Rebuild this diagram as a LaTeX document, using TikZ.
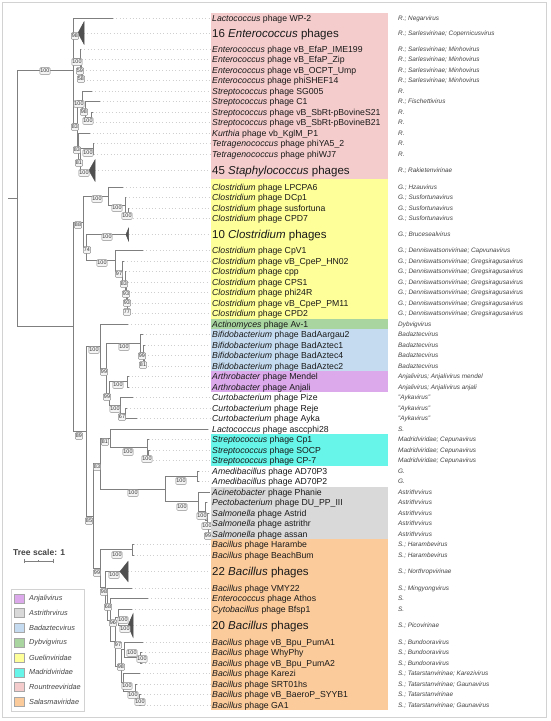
\documentclass[tikz,border=0pt]{standalone}
\usepackage{fontspec}
\setmainfont{Liberation Sans}
\definecolor{cR}{HTML}{F4CCCC}
\definecolor{cG}{HTML}{FFFF99}
\definecolor{cD}{HTML}{A8D5A0}
\definecolor{cB}{HTML}{C5DCF0}
\definecolor{cA}{HTML}{DCA9EA}
\definecolor{cM}{HTML}{66F5E8}
\definecolor{cT}{HTML}{D9D9D9}
\definecolor{cS}{HTML}{FBCB9B}
\definecolor{brc}{HTML}{7F7F7F}
\definecolor{leadc}{HTML}{CFCFCF}
\definecolor{bsb}{HTML}{8A8A8A}
\definecolor{bsf}{HTML}{F4F4F4}
\definecolor{bst}{HTML}{333333}
\definecolor{taxc}{HTML}{444444}
\definecolor{txtc}{HTML}{1A1A1A}
\definecolor{framec}{HTML}{D2D2D2}
\definecolor{tric}{HTML}{505050}
\newcommand{\leaflbl}[5]{%
  \node[lab] (n#1) at (212,{#2+3.1}) {\textit{#3} #4};
  \node[tax] (x#1) at (398,{#2+2.3}) {#5};}
\newcommand{\cladelbl}[5]{%
  \node[biglab] (n#1) at (212,{#2+4.1}) {#3 \textit{#4} phages};
  \node[tax] (x#1) at (398,{#2+2.3}) {#5};}
\begin{document}
\begin{tikzpicture}[x=1pt,y=-1pt,
  br/.style={draw=brc, line width=0.9pt},
  lead/.style={draw=leadc, line width=0.7pt, dash pattern=on 0.9pt off 2.4pt},
  tri/.style={fill=tric, draw=tric, line width=0.5pt},
  bs/.style={draw=bsb, fill=bsf, rounded corners=1pt, inner sep=0.7pt, line width=0.5pt,
    font=\fontsize{5.4}{5.4}\selectfont, text=bst, minimum height=6.8pt},
  lab/.style={anchor=base west, inner sep=0pt, text=txtc, font=\fontsize{8.7}{9}\selectfont},
  biglab/.style={anchor=base west, inner sep=0pt, text=txtc, font=\fontsize{11.5}{12}\selectfont},
  tax/.style={anchor=base west, inner sep=0pt, text=taxc, font=\fontsize{6.4}{7}\selectfont\itshape},
  cbox/.style={draw=none},
  legsq/.style={draw=gray!70, line width=0.4pt, minimum width=10pt, minimum height=9pt, inner sep=0pt},
  legtxt/.style={anchor=west, inner sep=0pt, text=taxc, font=\fontsize{7.3}{8}\selectfont\itshape},
  frame/.style={draw=framec, line width=1.5pt}]
\useasboundingbox (0,0) rectangle (550,721);
\fill[white] (0,0) rectangle (550,721);

% ---------- internal nodes
\coordinate (R0) at (17,198.6);
\coordinate (R0s) at (8,198.6);
\coordinate (A) at (73,70.6);
\coordinate (Mi) at (80,58.2);
\coordinate (M2) at (81,67.4);
\coordinate (M3) at (82,75.25);
\coordinate (B) at (77,123.25);
\coordinate (P) at (82,100.2);
\coordinate (Q) at (85,109.4);
\coordinate (Rr) at (91,117.25);
\coordinate (D2) at (78,146.3);
\coordinate (D3) at (80,159.6);
\coordinate (YW) at (93,148.75);
\coordinate (L) at (73,326.6);
\coordinate (G88) at (83,222);
\coordinate (X1) at (108,196.2);
\coordinate (X2) at (125,205.4);
\coordinate (X3) at (128,213.25);
\coordinate (G74) at (86,247.7);
\coordinate (Nb) at (115,260.8);
\coordinate (C97) at (122,271.2);
\coordinate (C83) at (125,281.3);
\coordinate (C93a) at (126.5,291.2);
\coordinate (C93b) at (127,300.4);
\coordinate (C77) at (127.5,308.25);
\coordinate (N89) at (86,431.3);
\coordinate (U) at (100,346.3);
\coordinate (W) at (106,368.6);
\coordinate (Bf) at (140,343.7);
\coordinate (Bf2) at (143,352.9);
\coordinate (Bf3) at (144,360.75);
\coordinate (V) at (109,393.6);
\coordinate (Anj) at (127,381.75);
\coordinate (Cu) at (120,405.4);
\coordinate (Cu2) at (125,413.25);
\coordinate (N85) at (93,516.2);
\coordinate (N83) at (100,463.6);
\coordinate (N81) at (110,438.2);
\coordinate (Md1) at (147,447.4);
\coordinate (Md2) at (148,455.25);
\coordinate (AA) at (165,489.1);
\coordinate (Am) at (197,476.25);
\coordinate (As1) at (198,501.9);
\coordinate (As2) at (205,511.7);
\coordinate (As3) at (207,520.9);
\coordinate (As4) at (208.5,528.75);
\coordinate (S) at (100,568.8);
\coordinate (Ha) at (132,549.75);
\coordinate (S98) at (105,587.8);
\coordinate (S68) at (107,604);
\coordinate (S96) at (110,620.1);
\coordinate (S97) at (115,641.8);
\coordinate (Px) at (118,617.25);
\coordinate (S98b) at (121,666.3);
\coordinate (Bu1) at (124,649.9);
\coordinate (Bu2) at (140,657.75);
\coordinate (K1) at (123,682.7);
\coordinate (K2) at (135,691.9);
\coordinate (K3) at (139,699.75);

% ---------- leaders and leaves
\foreach \p/\i/\x/\y in {A/1/113/18, Mi/3/81/49, M2/4/82/59.5, M3/5/83/70, M3/6/83.5/80.5,
  P/7/92/91, Q/8/100/101.5, Rr/9/92.5/112, Rr/10/93/122.5, D2/11/90/133, YW/12/94/143.5,
  YW/13/94/154, X1/15/123/187, X2/16/126/197.5, X3/17/129/208, X3/18/130/218.5,
  Nb/20/143/250.5, C97/21/124/261, C83/22/126/271.5, C93a/23/127.5/282, C93b/24/128/292.5,
  C77/25/128.5/303, C77/26/128.5/313.5, U/27/128/324, Bf/28/143/334.5, Bf2/29/144.5/345,
  Bf3/30/145/355.5, Bf3/31/145/366, Anj/32/128.5/376.5, Anj/33/128.5/387, Cu/34/133/397.5,
  Cu2/35/127/408, Cu2/36/137/418.5, N81/37/208/429, Md1/38/148.5/439.5, Md2/39/149.5/450,
  Md2/40/149.5/460.5, Am/41/198.5/471, Am/42/198.5/481.5, As1/43/210/492, As2/44/207/502.5,
  As3/45/208.5/513, As4/46/210/523.5, As4/47/210/534, Ha/48/133.5/544.5, Ha/49/133.5/555,
  S68/51/132/588, S96/52/148/598.5, Px/53/132/609, Bu1/55/143/642, Bu2/56/142/652.5,
  Bu2/57/142/663, K1/58/140/673.5, K2/59/137/684, K3/60/140.5/694.5, K3/61/140.5/705}
{\coordinate (t\i) at (\x,\y); \coordinate (e\i) at (210,\y);
 \draw[lead] (t\i) -- (e\i);
 \draw[br] (\p) |- (t\i);}

% ---------- collapsed clades
\foreach \p/\i/\ax/\bx/\y/\h in {A/2/78/84/33/11, D3/14/89/95/170.5/10.5, G74/19/126/128.5/234.5/6,
  S98/50/120/128/571.5/10, Px/54/128/133/625.5/11.5}
{\coordinate (t\i) at (\ax,\y); \coordinate (b\i) at (\bx,\y); \coordinate (e\i) at (210,\y);
 \draw[lead] (b\i) -- (e\i);
 \draw[br] (\p) |- (t\i);
 \filldraw[tri] (t\i) -- (\bx,{\y-\h}) -- (\bx,{\y+\h}) -- cycle;}

% ---------- internal branches
\draw[br] (R0s) -- (R0);
\foreach \p/\c in {R0/A, R0/L, A/Mi, A/B, Mi/M2, M2/M3, B/P, B/D2, P/Q, Q/Rr, D2/D3, D3/YW,
  L/G88, L/N89, G88/X1, G88/G74, X1/X2, X2/X3, G74/Nb, Nb/C97, C97/C83, C83/C93a, C93a/C93b,
  C93b/C77, N89/U, N89/N85, U/W, W/Bf, Bf/Bf2, Bf2/Bf3, W/V, V/Anj, V/Cu, Cu/Cu2, N85/N83,
  N85/S, N83/N81, N83/AA, N81/Md1, Md1/Md2, AA/Am, AA/As1, As1/As2, As2/As3, As3/As4, S/Ha,
  S/S98, S98/S68, S68/S96, S96/S97, S97/Px, S97/S98b, S98b/Bu1, S98b/K1, Bu1/Bu2, K1/K2, K2/K3}
  \draw[br] (\p) |- (\c);

% ---------- bootstrap values
\foreach \x/\y/\t [count=\i] in {45/71/100, 75/36/98, 77/62/100, 80/71/59, 81/79/58, 79/104/100,
  84/112/98, 88/121/100, 75/127/83, 77/150/83, 88/153/100, 79/163/81, 84/173/100, 97/199/100,
  117/208/100, 127/216/100, 78/225/88, 107/237/100, 87/250/74, 102/263/100, 119/274/97,
  124/284/83, 126/294/93, 127/303/93, 127/312/77, 79/436/89, 94/350/100, 124/347/100,
  142/356/99, 143/365/81, 104/372/99, 118/385/100, 107/397/99, 115/409/100, 122/417/67,
  105/442/81, 128/452/100, 147/459/100, 97/467/83, 133/493/100, 181/481/100, 182/507/100,
  202/516/100, 207/526/100, 208/536/99, 89/521/85, 97/573/99, 117/555/100, 114/575/100,
  104/592/98, 108/607/68, 113/623/96, 123/620/100, 125/629/100, 118/645/97, 132/653/100,
  142/659/100, 121/667/98, 127/686/100, 133/695/100, 140/702/100}
  \node[bs] (bs\i) at (\x,\y) {\t};

% ---------- colour bands
\fill[cR] (211,12.75) rectangle (388,179);
\fill[cG] (211,179) rectangle (388,318.75);
\fill[cD] (211,318.75) rectangle (388,329.25);
\fill[cB] (211,329.25) rectangle (388,371.25);
\fill[cA] (211,371.25) rectangle (388,392.25);
\fill[cM] (211,434.25) rectangle (388,465.75);
\fill[cT] (211,486.75) rectangle (388,539.25);
\fill[cS] (211,539.25) rectangle (388,710.25);

% ---------- labels
\leaflbl{1}{18}{Lactococcus}{phage WP-2}{R.; Negarvirus}
\cladelbl{2}{33}{16}{Enterococcus}{R.; Sarlesvirinae; Copernicusvirus}
\leaflbl{3}{49}{Enterococcus}{phage vB\_EfaP\_IME199}{R.; Sarlesvirinae; Minhovirus}
\leaflbl{4}{59.5}{Enterococcus}{phage vB\_EfaP\_Zip}{R.; Sarlesvirinae; Minhovirus}
\leaflbl{5}{70}{Enterococcus}{phage vB\_OCPT\_Ump}{R.; Sarlesvirinae; Minhovirus}
\leaflbl{6}{80.5}{Enterococcus}{phage phiSHEF14}{R.; Sarlesvirinae; Minhovirus}
\leaflbl{7}{91}{Streptococcus}{phage SG005}{R.}
\leaflbl{8}{101.5}{Streptococcus}{phage C1}{R.; Fischettivirus}
\leaflbl{9}{112}{Streptococcus}{phage vB\_SbRt-pBovineS21}{R.}
\leaflbl{10}{122.5}{Streptococcus}{phage vB\_SbRt-pBovineB21}{R.}
\leaflbl{11}{133}{Kurthia}{phage vb\_KglM\_P1}{R.}
\leaflbl{12}{143.5}{Tetragenococcus}{phage phiYA5\_2}{R.}
\leaflbl{13}{154}{Tetragenococcus}{phage phiWJ7}{R.}
\cladelbl{14}{170.5}{45}{Staphylococcus}{R.; Rakietenvirinae}
\leaflbl{15}{187}{Clostridium}{phage LPCPA6}{G.; Hzauvirus}
\leaflbl{16}{197.5}{Clostridium}{phage DCp1}{G.; Susfortunavirus}
\leaflbl{17}{208}{Clostridium}{phage susfortuna}{G.; Susfortunavirus}
\leaflbl{18}{218.5}{Clostridium}{phage CPD7}{G.; Susfortunavirus}
\cladelbl{19}{234.5}{10}{Clostridium}{G.; Brucesealvirus}
\leaflbl{20}{250.5}{Clostridium}{phage CpV1}{G.; Denniswatsonvirinae; Capvunavirus}
\leaflbl{21}{261}{Clostridium}{phage vB\_CpeP\_HN02}{G.; Denniswatsonvirinae; Gregsiragusavirus}
\leaflbl{22}{271.5}{Clostridium}{phage cpp}{G.; Denniswatsonvirinae; Gregsiragusavirus}
\leaflbl{23}{282}{Clostridium}{phage CPS1}{G.; Denniswatsonvirinae; Gregsiragusavirus}
\leaflbl{24}{292.5}{Clostridium}{phage phi24R}{G.; Denniswatsonvirinae; Gregsiragusavirus}
\leaflbl{25}{303}{Clostridium}{phage vB\_CpeP\_PM11}{G.; Denniswatsonvirinae; Gregsiragusavirus}
\leaflbl{26}{313.5}{Clostridium}{phage CPD2}{G.; Denniswatsonvirinae; Gregsiragusavirus}
\leaflbl{27}{324}{Actinomyces}{phage Av-1}{Dybvigvirus}
\leaflbl{28}{334.5}{Bifidobacterium}{phage BadAargau2}{Badaztecvirus}
\leaflbl{29}{345}{Bifidobacterium}{phage BadAztec1}{Badaztecvirus}
\leaflbl{30}{355.5}{Bifidobacterium}{phage BadAztec4}{Badaztecvirus}
\leaflbl{31}{366}{Bifidobacterium}{phage BadAztec2}{Badaztecvirus}
\leaflbl{32}{376.5}{Arthrobacter}{phage Mendel}{Anjalivirus; Anjalivirus mendel}
\leaflbl{33}{387}{Arthrobacter}{phage Anjali}{Anjalivirus; Anjalivirus anjali}
\leaflbl{34}{397.5}{Curtobacterium}{phage Pize}{"Aykavirus"}
\leaflbl{35}{408}{Curtobacterium}{phage Reje}{"Aykavirus"}
\leaflbl{36}{418.5}{Curtobacterium}{phage Ayka}{"Aykavirus"}
\leaflbl{37}{429}{Lactococcus}{phage asccphi28}{S.}
\leaflbl{38}{439.5}{Streptococcus}{phage Cp1}{Madridviridae; Cepunavirus}
\leaflbl{39}{450}{Streptococcus}{phage SOCP}{Madridviridae; Cepunavirus}
\leaflbl{40}{460.5}{Streptococcus}{phage CP-7}{Madridviridae; Cepunavirus}
\leaflbl{41}{471}{Amedibacillus}{phage AD70P3}{G.}
\leaflbl{42}{481.5}{Amedibacillus}{phage AD70P2}{G.}
\leaflbl{43}{492}{Acinetobacter}{phage Phanie}{Astrithrvirus}
\leaflbl{44}{502.5}{Pectobacterium}{phage DU\_PP\_III}{Astrithrvirus}
\leaflbl{45}{513}{Salmonella}{phage Astrid}{Astrithrvirus}
\leaflbl{46}{523.5}{Salmonella}{phage astrithr}{Astrithrvirus}
\leaflbl{47}{534}{Salmonella}{phage assan}{Astrithrvirus}
\leaflbl{48}{544.5}{Bacillus}{phage Harambe}{S.; Harambevirus}
\leaflbl{49}{555}{Bacillus}{phage BeachBum}{S.; Harambevirus}
\cladelbl{50}{571.5}{22}{Bacillus}{S.; Northropvirinae}
\leaflbl{51}{588}{Bacillus}{phage VMY22}{S.; Mingyongvirus}
\leaflbl{52}{598.5}{Enterococcus}{phage Athos}{S.}
\leaflbl{53}{609}{Cytobacillus}{phage Bfsp1}{S.}
\cladelbl{54}{625.5}{20}{Bacillus}{S.; Picovirinae}
\leaflbl{55}{642}{Bacillus}{phage vB\_Bpu\_PumA1}{S.; Bundooravirus}
\leaflbl{56}{652.5}{Bacillus}{phage WhyPhy}{S.; Bundooravirus}
\leaflbl{57}{663}{Bacillus}{phage vB\_Bpu\_PumA2}{S.; Bundooravirus}
\leaflbl{58}{673.5}{Bacillus}{phage Karezi}{S.; Tatarstanvirinae; Karezivirus}
\leaflbl{59}{684}{Bacillus}{phage SRT01hs}{S.; Tatarstanvirinae; Gaunavirus}
\leaflbl{60}{694.5}{Bacillus}{phage vB\_BaeroP\_SYYB1}{S.; Tatarstanvirinae}
\leaflbl{61}{705}{Bacillus}{phage GA1}{S.; Tatarstanvirinae; Gaunavirus}

% ---------- tree scale
\node[anchor=west, inner sep=0pt, text=taxc, font=\fontsize{8.5}{9}\selectfont\bfseries] (ts) at (13,552) {Tree scale: 1};
\coordinate (sb1) at (24,561);
\coordinate (sb2) at (53,561);
\coordinate (sbm) at (38.5,561);
\draw[draw=gray, line width=0.6pt] (sb1) -- (sb2);
\draw[draw=gray, line width=0.6pt] ([yshift=-2pt]sb1) -- ([yshift=2pt]sb1);
\draw[draw=gray, line width=0.6pt] ([yshift=-2pt]sb2) -- ([yshift=2pt]sb2);
\draw[draw=gray, line width=0.6pt] ([yshift=-1.2pt]sbm) -- ([yshift=1.2pt]sbm);

% ---------- legend
\draw[draw=framec, line width=0.8pt] (11,589) rectangle (84,711);
\foreach \c/\t [count=\i] in {cA/Anjalivirus, cT/Astrithrvirus, cB/Badaztecvirus, cD/Dybvigvirus,
  cG/Guelinviridae, cM/Madridviridae, cR/Rountreeviridae, cS/Salasmaviridae}
{\node[legsq, fill=\c] (sq\i) at (19,{583.5+14.8*\i}) {};
 \node[legtxt] (lt\i) at (29,{583.5+14.8*\i}) {\t};}

% ---------- frame
\draw[frame] (2.7,2.7) rectangle (546.7,717.3);
\end{tikzpicture}
\end{document}
